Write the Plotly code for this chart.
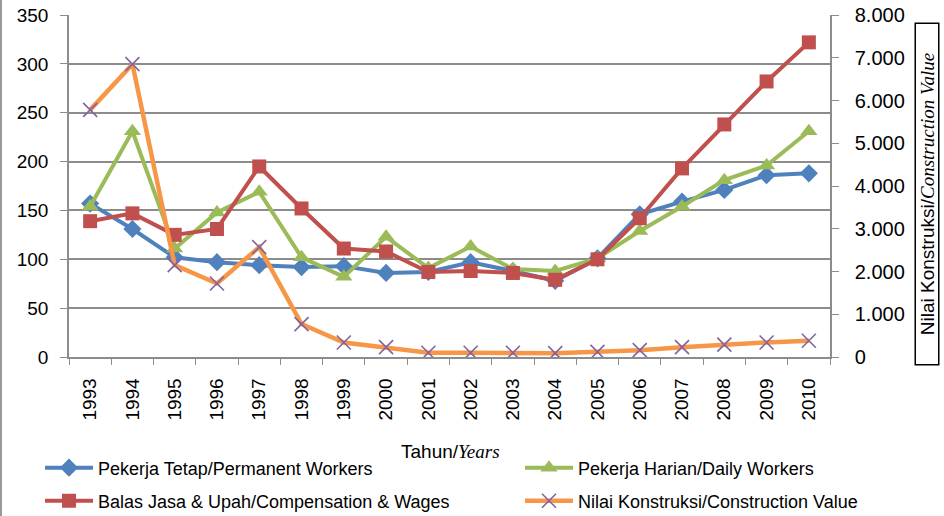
import plotly.graph_objects as go

years = [str(y) for y in range(1993, 2011)]

permanent = [157, 131, 102, 97, 94, 92, 93, 86, 87, 97, 88, 78, 101, 146, 159, 171, 186, 188]
daily = [154, 231, 111, 148, 169, 102, 82, 123, 91, 113, 90, 88, 101, 129, 154, 181, 196, 231]
compensation = [139, 147, 125, 131, 195, 152, 111, 108, 87, 88, 86, 79, 100, 142, 193, 238, 282, 322]
construction = [5780, 6850, 2150, 1720, 2570, 770, 340, 230, 100, 100, 100, 90, 120, 160, 230, 290, 340, 380]

names = [
    "Pekerja Tetap/Permanent Workers",
    "Pekerja Harian/Daily Workers",
    "Balas Jasa & Upah/Compensation & Wages",
    "Nilai Konstruksi/Construction Value",
]

FONT = "Liberation Sans, Arial, sans-serif"
SERIF = "Liberation Serif, Times New Roman, serif"
GRID = "#8c8c8c"

# plot area in pixels
L, R, T, B = 69, 830, 15, 357
W, H = 944, 516


def px_x(p):
    return (p - L) / (R - L)


def px_y(p):
    return (B - p) / (B - T)


fig = go.Figure()

fig.add_trace(go.Scatter(
    x=years, y=permanent, name=names[0], mode="lines+markers",
    line=dict(color="#4f81bd", width=4),
    marker=dict(symbol="diamond", size=14, color="#4f81bd"),
    legend="legend"))
fig.add_trace(go.Scatter(
    x=years, y=daily, name=names[1], mode="lines+markers",
    line=dict(color="#9bbb59", width=4),
    marker=dict(symbol="triangle-up", size=15, color="#9bbb59"),
    legend="legend2"))
fig.add_trace(go.Scatter(
    x=years, y=compensation, name=names[2], mode="lines+markers",
    line=dict(color="#c0504d", width=4),
    marker=dict(symbol="square", size=14, color="#c0504d"),
    legend="legend3"))
fig.add_trace(go.Scatter(
    x=years, y=construction, name=names[3], mode="lines+markers", yaxis="y2",
    line=dict(color="#f79646", width=4.5),
    marker=dict(symbol="x-thin-open", size=14, color="#8064a2",
                line=dict(color="#8064a2", width=1.6)),
    legend="legend4"))

leg = dict(orientation="h", bgcolor="rgba(0,0,0,0)", itemwidth=48,
           font=dict(family=FONT, size=18, color="black"),
           xref="container", yref="container",
           xanchor="left", yanchor="middle")

fig.update_layout(
    width=W, height=H,
    showlegend=True,
    margin=dict(l=L, r=W - R, t=T, b=H - B, autoexpand=False),
    paper_bgcolor="white", plot_bgcolor="white",
    separators=",.",
    font=dict(family=FONT, size=19, color="black"),
    xaxis=dict(
        type="category", tickangle=-90, range=[-0.5, len(years) - 0.5],
        showline=True, linecolor=GRID, linewidth=1.5,
        ticks="outside", tickson="boundaries", ticklen=6, tickcolor=GRID,
        ticklabelstandoff=12,
        showgrid=False, tickfont=dict(size=19),
    ),
    yaxis=dict(
        range=[0, 350], dtick=50,
        showline=True, linecolor=GRID, linewidth=1.5,
        ticks="outside", ticklen=7, tickcolor=GRID,
        ticklabelstandoff=8,
        showgrid=True, gridcolor=GRID, gridwidth=1.5,
        zeroline=False, tickfont=dict(size=19),
    ),
    yaxis2=dict(
        overlaying="y", side="right",
        range=[0, 8000], dtick=1000, tickformat=",d",
        showline=True, linecolor=GRID, linewidth=1.5,
        ticks="outside", ticklen=7, tickcolor=GRID,
        ticklabelstandoff=12,
        showgrid=False, zeroline=False, tickfont=dict(size=20),
    ),
    legend=dict(leg, x=40 / W, y=1 - 468 / H),
    legend2=dict(leg, x=520 / W, y=1 - 468 / H),
    legend3=dict(leg, x=40 / W, y=1 - 501 / H),
    legend4=dict(leg, x=520 / W, y=1 - 501 / H),
)

fig.add_annotation(
    text="Tahun/<span style='font-family:%s'><i>Years</i></span>" % SERIF,
    xref="paper", yref="paper", x=px_x(450), y=px_y(452),
    xanchor="center", yanchor="middle", showarrow=False,
    font=dict(size=19, family=FONT, color="black"))

fig.add_annotation(
    text="Nilai Konstruksi/<span style='font-family:%s'><i>Construction Value</i></span>" % SERIF,
    xref="paper", yref="paper", x=px_x(914), y=px_y(194),
    xanchor="left", yanchor="middle", showarrow=False, textangle=-90,
    width=340, height=22, borderpad=0,
    bordercolor="black", borderwidth=1.5,
    font=dict(size=19, family=FONT, color="black"))

# outer left frame edge
fig.add_shape(type="line", xref="paper", yref="paper",
              x0=px_x(1), x1=px_x(1), y0=px_y(H), y1=px_y(0),
              line=dict(color="#999999", width=2))

# drop the browser's default 8px body margin so the figure sits at 0,0
fig.write_html("out.html", config={"displayModeBar": False},
               post_script="document.body.style.margin='0';")
